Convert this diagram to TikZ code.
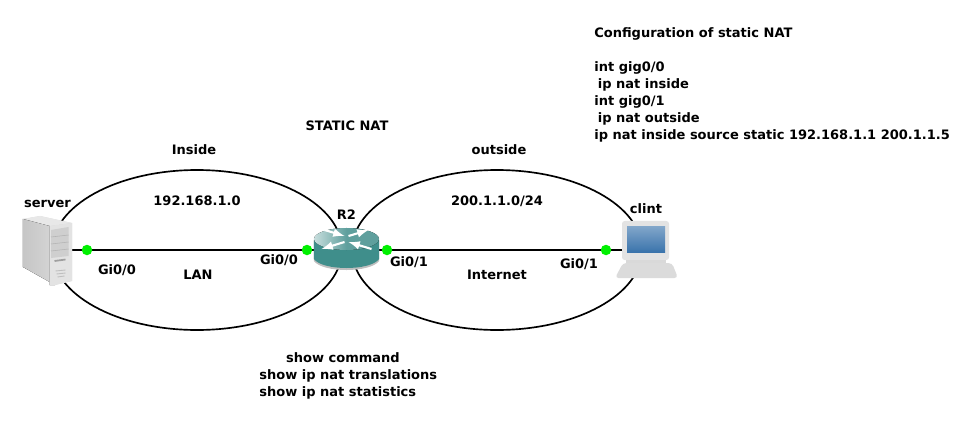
\documentclass[tikz,border=0pt]{standalone}
\usepackage{fontspec}
\setmainfont{DejaVu Sans}
\usetikzlibrary{positioning, shapes.geometric}

\definecolor{portgreen}{HTML}{00F000}
\definecolor{routerside}{HTML}{3F8E8B}
\definecolor{routertop}{HTML}{5F9F9D}
\definecolor{screenblue}{HTML}{3B74AC}

\begin{document}
\begin{tikzpicture}[
    every node/.style={font=\fontsize{7.4pt}{9.7pt}\selectfont\bfseries},
    device/.style={minimum width=0.9cm, minimum height=0.9cm, inner sep=0pt},
    zone/.style={draw, ellipse, line width=0.95pt, inner sep=0pt, minimum width=5.8cm, minimum height=3.2cm},
    link/.style={line width=0.95pt},
    port/.style={circle, fill=portgreen, minimum size=0.21cm, inner sep=0pt},
    icon/.style={x=0.02cm, y=-0.02cm}
]
    \useasboundingbox (0,0) rectangle (19.46,8.48);

    % Devices, their icons are drawn further down
    \node[device] (server) at (0.95,3.48) {};
    \node[device] (r2) at (6.93,3.48) {};
    \node[device] (clint) at (12.92,3.48) {};

    % Inside and outside networks
    \node[zone] (lan) at (3.94,3.48) {};
    \node[zone] (wan) at (9.94,3.48) {};

    % Links
    \draw[link] (server) -- (r2);
    \draw[link] (r2) -- (clint);

    % Server icon
    \begin{scope}[icon, shift={(server.center)}]
        \fill[gray!30] (-24.5,-31) -- (-7.5,-34) -- (24.5,-27) -- (24.5,31) -- (7.5,35) -- (-24.5,17) -- cycle;
        \fill[gray!18] (-24.5,-31) -- (-7.5,-34) -- (24.5,-27) -- (2,-24) -- cycle;
        \fill[left color=gray!45, right color=gray!32] (-24.5,-31) -- (2,-24) -- (2,35) -- (7.5,35) -- (-24.5,17) -- cycle;
        \fill[gray!22] (2,-24) -- (24.5,-27) -- (24.5,31) -- (7.5,35) -- (2,35) -- cycle;
        \fill[gray!38] (3.5,-20) -- (21,-23) -- (21,6) -- (3.5,8) -- cycle;
        \draw[gray!60, line width=0.3pt] (3.5,-13) -- (21,-15) (3.5,-6) -- (21,-8) (3.5,1) -- (21,-1);
        \draw[gray!75, line width=1pt] (7,11) -- (18,9.5);
        \draw[gray!50, line width=0.5pt] (8,21) -- (18,20) (9,24) -- (18,23) (10,27) -- (17,26);
    \end{scope}

    % Router icon
    \begin{scope}[icon, shift={(r2.center)}]
        \fill[gray!50] (-32.5,-9) -- (-32.5,11) .. controls (-24,23) and (24,23) .. (32.5,11) -- (32.5,-9) -- cycle;
        \fill[routerside] (-32.5,-10) -- (-32.5,9) .. controls (-24,21) and (24,21) .. (32.5,9) -- (32.5,-10) -- cycle;
        \fill[left color=routertop!35!white, right color=routertop, middle color=routertop] (0,-11) ellipse[x radius=32.5, y radius=11];
        \draw[white, line width=1.2pt, -latex] (-2,-8) -- (-25,-1);
        \draw[white, line width=1.2pt, -latex] (2,-14) -- (22,-20);
        \draw[white, line width=1.2pt, latex-] (-2,-14) -- (-22,-20);
        \draw[white, line width=1.2pt, latex-] (2,-8) -- (25,-1);
    \end{scope}

    % Client icon
    \begin{scope}[icon, shift={(clint.center)}]
        \fill[gray!22, rounded corners=1.5pt] (-24,-29) rectangle (23,10);
        \fill[top color=screenblue!65, bottom color=screenblue] (-19,-23) rectangle (19,2);
        \fill[gray!30] (-20,10) rectangle (20,14);
        \fill[gray!28, rounded corners=2pt] (-23,13) -- (26,13) -- (32,28) -- (-31,28) -- cycle;
    \end{scope}

    % Ports
    \node[port] (p1) at (1.74,3.48) {};
    \node[port] (p2) at (6.14,3.48) {};
    \node[port] (p3) at (7.74,3.48) {};
    \node[port] (p4) at (12.12,3.48) {};

    % Labels
    \node[above=0.27cm of server] (serverlabel) {server};
    \node[above=0.02cm of r2] (r2label) {R2};
    \node at (12.92,4.3) (clintlabel) {clint};
    \node at (2.34,3.08) (gi1) {Gi0/0};
    \node at (5.58,3.28) (gi2) {Gi0/0};
    \node at (8.18,3.24) (gi3) {Gi0/1};
    \node at (11.58,3.2) (gi4) {Gi0/1};

    \node at (3.88,5.48) (inside) {Inside};
    \node at (3.94,4.46) (lannet) {192.168.1.0};
    \node at (3.96,2.98) (lantext) {LAN};
    \node at (6.94,5.96) (title) {STATIC NAT};
    \node at (9.98,5.48) (outside) {outside};
    \node at (9.94,4.46) (wannet) {200.1.1.0/24};
    \node at (9.94,2.98) (wantext) {Internet};

    % Command text
    \node[anchor=north west, align=left, inner sep=0pt] (config) at (11.88,7.94) {Configuration of static NAT\\[9.7pt]int gig0/0\\\hspace*{2pt}ip nat inside\\int gig0/1\\\hspace*{2pt}ip nat outside\\ip nat inside source static 192.168.1.1 200.1.1.5};
    \node[anchor=north west, align=left, inner sep=0pt] (show) at (5.18,1.44) {\hspace*{15.3pt}show command\\show ip nat translations\\show ip nat statistics};
\end{tikzpicture}
\end{document}
